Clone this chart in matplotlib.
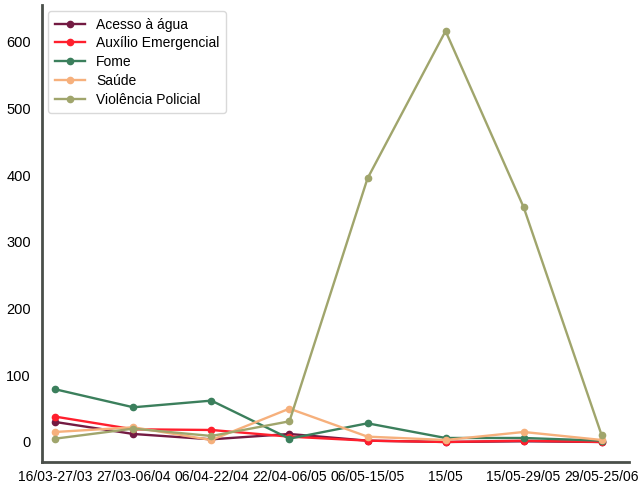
import matplotlib
matplotlib.use("Agg")
import matplotlib.pyplot as plt

plt.rcParams['font.family'] = ['Liberation Sans', 'DejaVu Sans']

periodos = ['16/03-27/03', '27/03-06/04', '06/04-22/04', '22/04-06/05',
            '06/05-15/05', '15/05', '15/05-29/05', '29/05-25/06']

acesso_agua = [30, 12, 4, 12, 2, 0, 1, 0]
auxilio = [38, 19, 18, 8, 2, 0, 2, 0]
fome = [79, 52, 62, 5, 28, 6, 6, 2]
saude = [15, 22, 3, 50, 8, 3, 15, 3]
violencia = [5, 20, 9, 31, 395, 616, 352, 10]

series = [
    ('Acesso à água', acesso_agua, '#731a42'),
    ('Auxílio Emergencial', auxilio, '#ff1f2d'),
    ('Fome', fome, '#3b7f5c'),
    ('Saúde', saude, '#f6b07c'),
    ('Violência Policial', violencia, '#a0a56c'),
]

fig = plt.figure(figsize=(6.41, 4.9), dpi=100)
ax = fig.add_axes([42/641, 28/490, 587/641, 457/490])

x = range(len(periodos))
for nome, vals, cor in series:
    ax.plot(x, vals, color=cor, marker='o', markersize=4.5, linewidth=1.7, label=nome)

ax.set_xlim(-0.17, 7.35)
ax.set_ylim(-30, 655)
ax.set_xticks(list(x))
ax.set_xticklabels(periodos, fontsize=10)
ax.set_yticks([0, 100, 200, 300, 400, 500, 600])
ax.tick_params(axis='y', labelsize=10.5, length=0, pad=8)
ax.tick_params(axis='x', length=0, pad=6)

for s in ['top', 'right']:
    ax.spines[s].set_visible(False)
for s in ['left', 'bottom']:
    ax.spines[s].set_color('#4a4f4a')
    ax.spines[s].set_linewidth(2)

leg = ax.legend(loc='upper left', fontsize=10, frameon=True, borderpad=0.45,
                labelspacing=0.35, handlelength=2.2, borderaxespad=0.45)
leg.get_frame().set_edgecolor('#d0d0d0')

fig.savefig('out.png', dpi=100)
